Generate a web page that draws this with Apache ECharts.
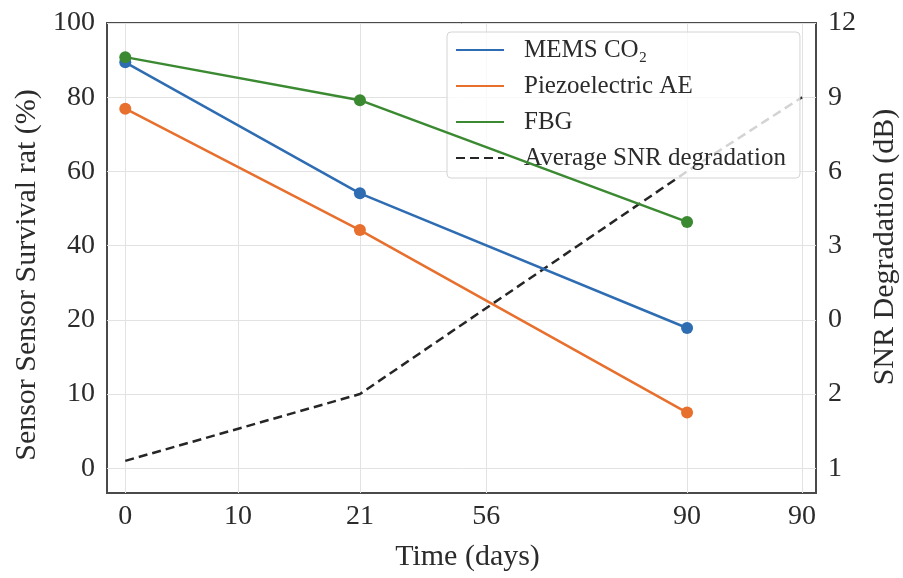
<!DOCTYPE html>
<html>
<head>
<meta charset="utf-8">
<title>Sensor survival</title>
<script src="https://cdn.jsdelivr.net/npm/echarts@6/dist/echarts.min.js"></script>
<style>
html, body { margin: 0; padding: 0; background: #fff; }
#chart { width: 903px; height: 578px; }
</style>
</head>
<body>
<div id="chart"></div>
<script>
// x ticks as printed, and where each one sits along the axis
const dayLabels = ['0', '10', '21', '56', '90', '90'];
const dayPos = [0, 10, 20.8, 32, 49.8, 60];

// y ticks as printed, bottom to top (they are evenly spaced in the picture)
const survivalTicks = [0, 10, 20, 40, 60, 80, 100];
const snrTicks = [1, 2, 0, 3, 6, 9, 12];

// which x tick each sample sits on
const sampleAt = [0, 2, 4];
const snrAt = [0, 2, 4, 5];

const memsCO2 = [89.4, 54.1, 18.9];
const piezoAE = [76.9, 44.2, 7.5];
const fbg = [90.8, 79.2, 46.4];
const snrDeg = [1.1, 2, 6, 9];

const FONT = 'Liberation Serif';
const TXT = '#2b2b2b';

// value -> position between the printed ticks (first segment that holds it)
function toSlot(v, ticks) {
    for (let i = 0; i < ticks.length - 1; i++) {
        const a = ticks[i], b = ticks[i + 1];
        if (v >= Math.min(a, b) && v <= Math.max(a, b)) {
            return a === b ? i : i + (v - a) / (b - a);
        }
    }
    return NaN;
}

function pts(at, vals, ticks) {
    return at.map((k, i) => [dayPos[k], toSlot(vals[i], ticks)]);
}

const slots = survivalTicks.map((t, i) => i);

function dayLabel(v) {
    let best = 0;
    for (let i = 1; i < dayPos.length; i++) {
        if (Math.abs(dayPos[i] - v) < Math.abs(dayPos[best] - v)) best = i;
    }
    return dayLabels[best];
}

const grid = '#e2e2e2';

const option = {
    animation: false,
    backgroundColor: '#fff',
    grid: {
        left: 107, right: 87, top: 23, bottom: 85,
        show: true,
        borderColor: '#4a4a4a',
        borderWidth: 2,
        backgroundColor: 'transparent',
        outerBoundsMode: 'none'
    },
    legend: {
        orient: 'vertical',
        left: 447,
        top: 32,
        padding: [4, 14, 6, 8],
        itemWidth: 48,
        itemHeight: 14,
        itemGap: 8,
        backgroundColor: 'rgba(255,255,255,0.8)',
        borderColor: '#d4d4d4',
        borderWidth: 1,
        borderRadius: 4,
        itemStyle: { opacity: 0 },
        textStyle: {
            fontFamily: FONT,
            fontSize: 25,
            lineHeight: 28,
            color: TXT,
            padding: [0, 0, 0, 15]
        },
        data: ['MEMS CO\u2082', 'Piezoelectric AE', 'FBG', 'Average SNR degradation']
    },
    xAxis: {
        type: 'value',
        min: -1.62,
        max: 61.23,
        name: 'Time (days)',
        nameLocation: 'middle',
        nameGap: 49,
        nameTextStyle: { fontFamily: FONT, fontSize: 30, color: TXT, padding: [0, 0, 0, 12] },
        axisLine: { show: false },
        axisTick: { show: false, customValues: dayPos },
        axisLabel: {
            customValues: dayPos,
            formatter: dayLabel,
            margin: 10,
            fontFamily: FONT,
            fontSize: 28,
            color: TXT
        },
        splitLine: { show: true, lineStyle: { color: grid, width: 1 } }
    },
    yAxis: [
        {
            type: 'value',
            min: -1 / 3,
            max: 6,
            name: 'Sensor Sensor Survival rat (%)',
            nameLocation: 'middle',
            nameGap: 64,
            nameTextStyle: { fontFamily: FONT, fontSize: 30, color: TXT, padding: [0, 34, 0, 0] },
            axisLine: { show: false },
            axisTick: { show: false, customValues: slots },
            axisLabel: {
                customValues: slots,
                formatter: v => String(survivalTicks[Math.round(v)]),
                margin: 12,
                fontFamily: FONT,
                fontSize: 28,
                color: TXT
            },
            splitLine: { show: true, lineStyle: { color: grid, width: 1 } }
        },
        {
            type: 'value',
            min: -1 / 3,
            max: 6,
            position: 'right',
            name: 'SNR Degradation (dB)',
            nameLocation: 'middle',
            nameGap: 54,
            nameTextStyle: { fontFamily: FONT, fontSize: 30, color: TXT, padding: [0, 0, 0, 22] },
            axisLine: { show: false },
            axisTick: { show: false, customValues: slots },
            axisLabel: {
                customValues: slots,
                formatter: v => String(snrTicks[Math.round(v)]),
                margin: 12,
                fontFamily: FONT,
                fontSize: 28,
                color: TXT
            },
            splitLine: { show: false }
        }
    ],
    series: [
        {
            name: 'MEMS CO\u2082',
            type: 'line',
            data: pts(sampleAt, memsCO2, survivalTicks),
            symbol: 'circle',
            symbolSize: 12,
            color: '#2f6db3',
            lineStyle: { width: 2.5 },
            z: 3
        },
        {
            name: 'Piezoelectric AE',
            type: 'line',
            data: pts(sampleAt, piezoAE, survivalTicks),
            symbol: 'circle',
            symbolSize: 12,
            color: '#e8702e',
            lineStyle: { width: 2.5 },
            z: 3
        },
        {
            name: 'FBG',
            type: 'line',
            data: pts(sampleAt, fbg, survivalTicks),
            symbol: 'circle',
            symbolSize: 12,
            color: '#3b8a32',
            lineStyle: { width: 2.5 },
            z: 4
        },
        {
            name: 'Average SNR degradation',
            type: 'line',
            yAxisIndex: 1,
            data: pts(snrAt, snrDeg, snrTicks),
            symbol: 'none',
            color: '#262626',
            lineStyle: { width: 2.5, type: [9, 5] },
            z: 2
        }
    ]
};

const chart = echarts.init(document.getElementById('chart'));
chart.setOption(option);
</script>
</body>
</html>
